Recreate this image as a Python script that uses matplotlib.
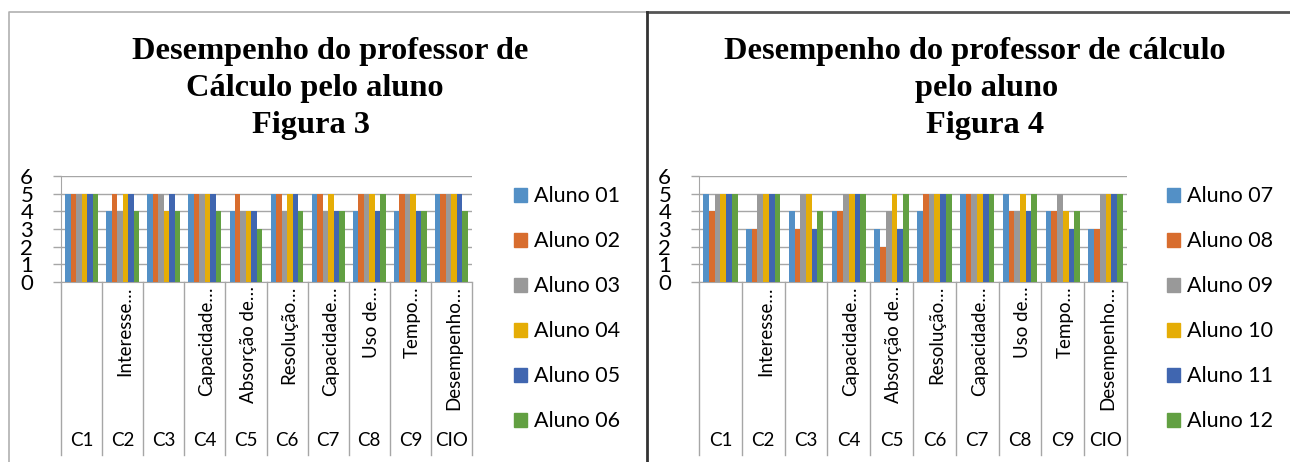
import matplotlib
matplotlib.use("Agg")
import matplotlib.pyplot as plt
from matplotlib.lines import Line2D
from matplotlib.patches import Patch

# ---- data ----
criteria_codes = ["C1", "C2", "C3", "C4", "C5", "C6", "C7", "C8", "C9", "CIO"]
criteria_names = ["", "Interesse…", "", "Capacidade…", "Absorção de…",
                  "Resolução…", "Capacidade…", "Uso de…", "Tempo…", "Desempenho…"]
y_ticks = [0, 1, 2, 3, 4, 5, 6]

students_fig3 = ["Aluno 01", "Aluno 02", "Aluno 03", "Aluno 04", "Aluno 05", "Aluno 06"]
aluno_01 = [5, 4, 5, 5, 4, 5, 5, 4, 4, 5]
aluno_02 = [5, 5, 5, 5, 5, 5, 5, 5, 5, 5]
aluno_03 = [5, 4, 5, 5, 4, 4, 4, 5, 5, 5]
aluno_04 = [5, 5, 4, 5, 4, 5, 5, 5, 5, 5]
aluno_05 = [5, 5, 5, 5, 4, 5, 4, 4, 4, 5]
aluno_06 = [5, 4, 4, 4, 3, 4, 4, 5, 4, 4]

students_fig4 = ["Aluno 07", "Aluno 08", "Aluno 09", "Aluno 10", "Aluno 11", "Aluno 12"]
aluno_07 = [5, 3, 4, 4, 3, 4, 5, 5, 4, 3]
aluno_08 = [4, 3, 3, 4, 2, 5, 5, 4, 4, 3]
aluno_09 = [5, 5, 5, 5, 4, 5, 5, 4, 5, 5]
aluno_10 = [5, 5, 5, 5, 5, 5, 5, 5, 4, 5]
aluno_11 = [5, 5, 3, 5, 3, 5, 5, 4, 3, 5]
aluno_12 = [5, 5, 4, 5, 5, 5, 5, 5, 4, 5]

colors = ["#5390C6", "#D86D2E", "#999999", "#E5AD06", "#4066B0", "#62A042"]

W, H = 1290, 462
fig = plt.figure(figsize=(W / 100, H / 100), dpi=100)
fig.patch.set_facecolor("white")

LABEL_FONT = "Lato"
TITLE_FONT = "Liberation Serif"
GRID = "#A6A6A6"


def px_axes(x0, y0, x1, y1):
    return fig.add_axes([x0 / W, 1 - y1 / H, (x1 - x0) / W, (y1 - y0) / H])


def fig_line(xs, ys, color, lw):
    fig.add_artist(Line2D([x / W for x in xs], [1 - y / H for y in ys],
                          color=color, lw=lw, transform=fig.transFigure))


def draw_panel(x0, x1, series, names, title_lines, title_x, legend_x):
    top, bottom = 176, 282
    ax = px_axes(x0, top, x1, bottom)
    n = len(criteria_codes)
    bw = 1 / 7.5
    for j, vals in enumerate(series):
        xs = [i + (j - 2.5) * bw for i in range(n)]
        ax.bar(xs, vals, width=bw, color=colors[j], label=names[j], zorder=3)
    ax.set_xlim(-0.5, n - 0.5)
    ax.set_ylim(0, 6)
    ax.set_yticks(y_ticks)
    ax.set_yticklabels([str(t) for t in y_ticks], fontsize=16, family=LABEL_FONT)
    ax.tick_params(axis="y", length=6, width=1, color=GRID, pad=14)
    ax.set_xticks([])
    for s in ["top", "right"]:
        ax.spines[s].set_visible(False)
    ax.spines["left"].set_color(GRID)
    ax.spines["bottom"].set_color(GRID)
    ax.grid(axis="y", color=GRID, lw=1, zorder=0)

    # category boundaries below the axis, two label levels
    px_h = bottom - top
    xt = ax.get_xaxis_transform()
    for i in range(n + 1):
        ax.add_line(Line2D([i - 0.5, i - 0.5], [0, -(455 - bottom) / px_h],
                           transform=xt, color=GRID, lw=1, clip_on=False))
    for i in range(n):
        ax.text(i + 0.05, -(286 - bottom) / px_h, criteria_names[i], transform=xt,
                rotation=90, ha="center", va="top", fontsize=13.5,
                family=LABEL_FONT)
        ax.text(i, -(441 - bottom) / px_h, criteria_codes[i], transform=xt,
                ha="center", va="center", fontsize=13.5, family=LABEL_FONT)

    for k, (line, cx) in enumerate(zip(title_lines, title_x)):
        fig.text(cx / W, 1 - (51 + 37.5 * k) / H, line, ha="center", va="center",
                 fontsize=23.3, fontweight="bold", family=TITLE_FONT)

    handles = [Patch(color=c) for c in colors]
    fig.legend(handles, names, loc="upper left",
               bbox_to_anchor=(legend_x / W, 1 - 186.5 / H), frameon=False,
               prop={"family": LABEL_FONT, "size": 15.5},
               handlelength=0.62, handleheight=0.62, handletextpad=0.3,
               labelspacing=1.16, borderpad=0, borderaxespad=0)
    return ax


draw_panel(61, 472,
           [aluno_01, aluno_02, aluno_03, aluno_04, aluno_05, aluno_06],
           students_fig3,
           ["Desempenho do professor de", "Cálculo pelo aluno", "Figura 3"],
           [330, 315, 311], 514)

draw_panel(699, 1127,
           [aluno_07, aluno_08, aluno_09, aluno_10, aluno_11, aluno_12],
           students_fig4,
           ["Desempenho do professor de cálculo", "pelo aluno", "Figura 4"],
           [975, 987, 985], 1167)

# page frame around the two charts
fig_line([9, 9, 647], [462, 12, 12], "#B0B0B0", 1.2)
fig_line([647, 1290], [12, 12], "#555555", 2)
fig_line([647, 647], [12, 462], "#333333", 2)

fig.savefig("out.png", dpi=100)
